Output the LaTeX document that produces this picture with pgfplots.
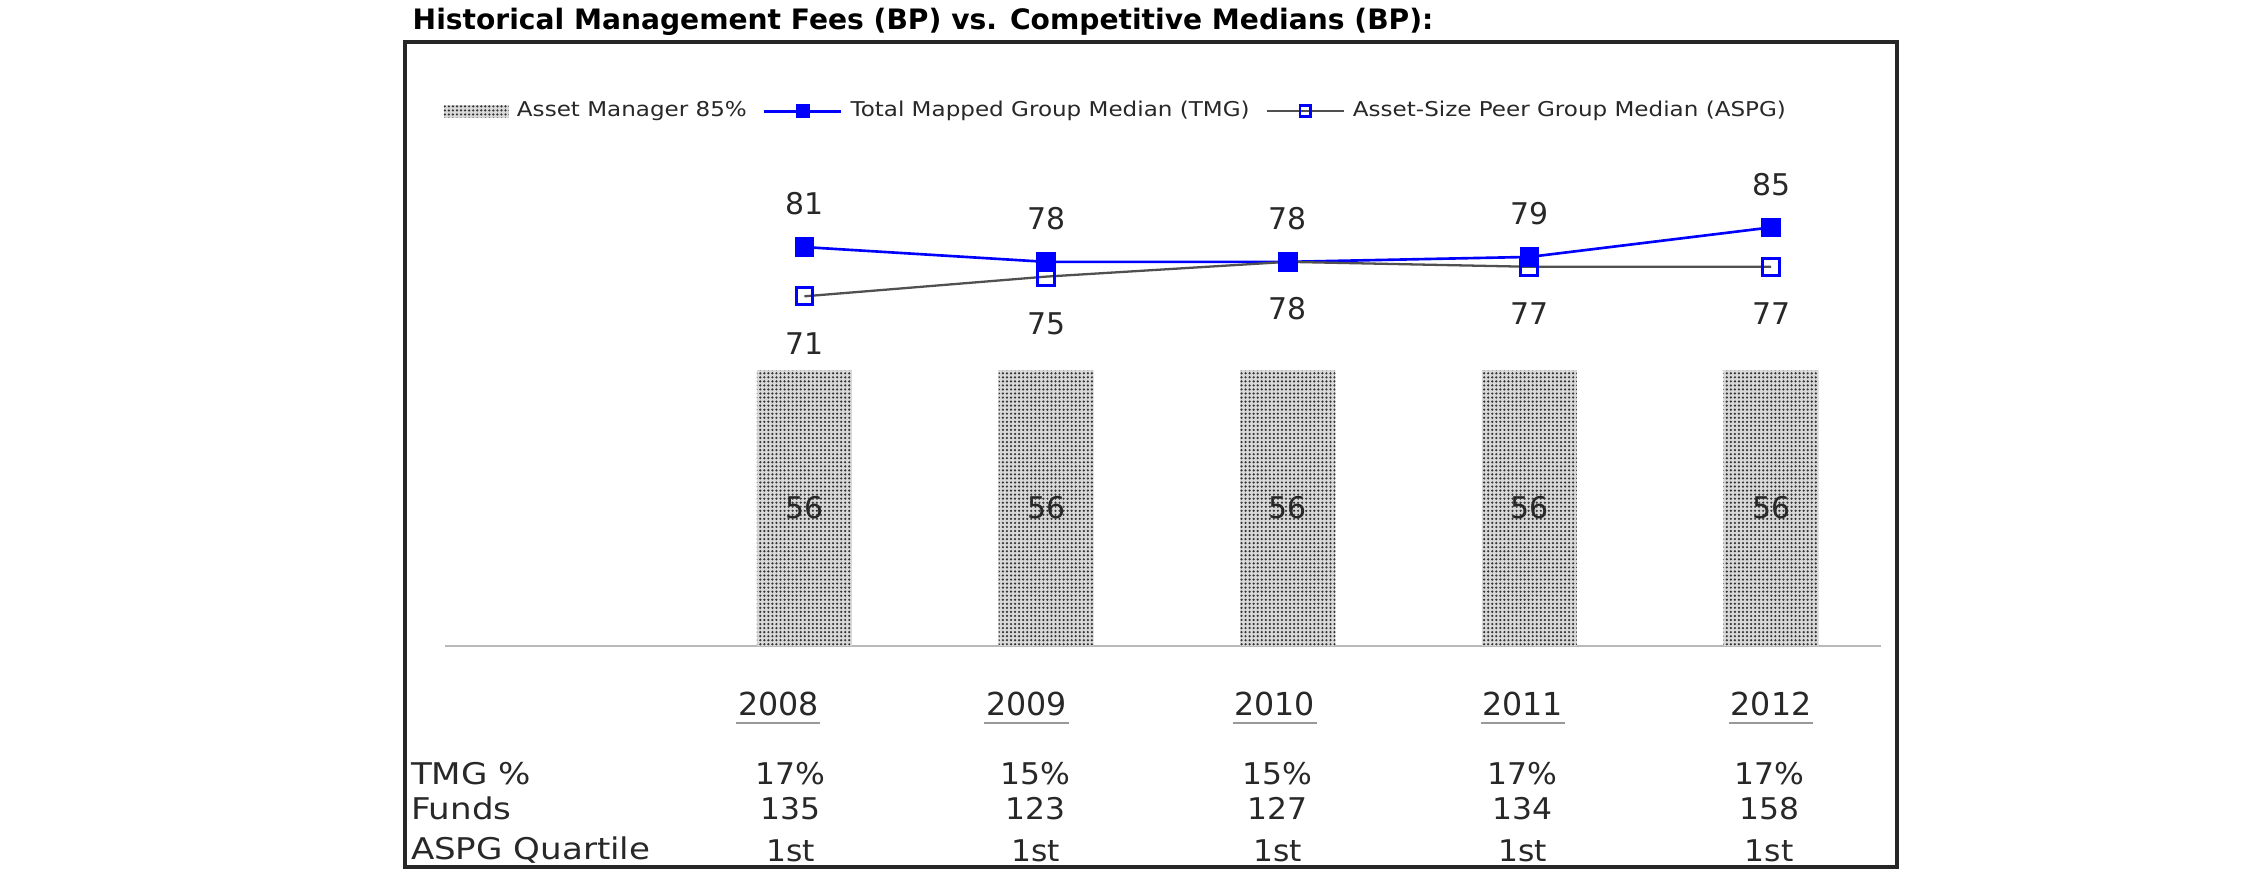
\documentclass[border=0pt]{standalone}
\usepackage{fontspec}
\setmainfont{DejaVu Sans}
\newfontfamily\legfont[FakeStretch=1.13]{DejaVu Sans}
\newfontfamily\rowfont[FakeStretch=1.14]{DejaVu Sans}
\newfontfamily\tabfont[FakeStretch=1.05]{DejaVu Sans}
\usepackage{pgfplots}
\pgfplotsset{compat=1.18}
\usetikzlibrary{patterns.meta}
\definecolor{tmgblue}{RGB}{0,0,255}
\definecolor{aspggray}{RGB}{80,80,80}
\definecolor{txt}{RGB}{40,40,40}
\tikzset{stipple/.style={preaction={fill=gray!30}, pattern={Dots[radius=0.35pt,distance=1.15pt]}, pattern color=black!80}}
\pgfplotsset{
  barlegend/.style={legend image code/.code={\path[stipple] (0cm,-0.065cm) rectangle (0.65cm,0.065cm);}},
  linelegend/.style={legend image code/.code={\draw[mark repeat=2,mark phase=2,##1,mark size=#1] plot coordinates {(0cm,0cm) (0.385cm,0cm) (0.77cm,0cm)};}},
}
\protected\def\yr#1{\setbox0=\hbox{#1}\leavevmode\kern-0.5pt\rlap{\raisebox{-2.4pt}{\color{gray!80}\rule{\dimexpr\wd0+1pt\relax}{0.75pt}}}\kern0.5pt\box0}
\begin{document}
\begin{tikzpicture}[x=0.01cm,y=0.01cm]
\fill[white] (0,0) rectangle (2250,895);
\draw[black!85, line width=1.1pt] (405,28) rectangle (1897,853);
\node[anchor=base west, inner sep=0pt, font=\bfseries\fontsize{8}{10}\selectfont] at (412,865) {Historical Management Fees (BP) vs. Competitive Medians (BP):};
\begin{axis}[
  at={(4.45cm,2.49cm)}, anchor=south west,
  scale only axis, width=14.35cm, height=5.904cm,
  xmin=-1.4865, xmax=4.4555, ymin=0, ymax=120,
  /pgf/number format/assume math mode=true,
  axis y line=none, axis x line*=bottom,
  x axis line style={gray!55, line width=0.6pt},
  xtick={-0.108,0.919,1.946,2.973,4.0},
  xticklabels={\yr{2008},\yr{2009},\yr{2010},\yr{2011},\yr{2012}},
  major tick length=0pt,
  xticklabel style={anchor=base, yshift=-0.70cm, inner sep=0pt, text=txt, font=\fontsize{9}{11}\selectfont},
  clip=false,
  legend columns=3,
  legend cell align=left,
  legend style={draw=none, fill=none, at={(-0.0014,0.905)}, anchor=west,
    inner sep=0pt, nodes={inner sep=0pt}, text=txt,
    font=\legfont\fontsize{5.8}{7}\selectfont,
    /tikz/every odd column/.append style={column sep=0.08cm},
    /tikz/every even column/.append style={column sep=0.16cm}},
]
\addplot[ybar, bar width=0.95cm, draw=none, stipple,
  nodes near coords,
  every node near coord/.append style={anchor=center, yshift=-1.378cm, text=txt, font=\fontsize{8.5}{10}\selectfont},
  barlegend]
  coordinates {(0,56) (1,56) (2,56) (3,56) (4,56)};
\addlegendentry{Asset Manager 85\%}
\addplot[tmgblue, line width=0.75pt, mark=square*, mark size=2.4pt, mark options={fill=tmgblue},
  nodes near coords,
  every node near coord/.append style={anchor=center, yshift=0.43cm, text=txt, font=\fontsize{8.5}{10}\selectfont},
  linelegend=1.6pt]
  coordinates {(0,81) (1,78) (2,78) (3,79) (4,85)};
\addlegendentry{Total Mapped Group Median (TMG)}
\addplot[aspggray, line width=0.65pt, mark=square, mark size=2.4pt, mark options={draw=tmgblue, fill=none, line width=0.85pt},
  nodes near coords,
  every node near coord/.append style={anchor=center, yshift=-0.47cm, text=txt, font=\fontsize{8.5}{10}\selectfont},
  linelegend=1.5pt]
  coordinates {(0,71) (1,75) (2,78) (3,77) (4,77)};
\addlegendentry{Asset-Size Peer Group Median (ASPG)}
% table below the chart
\begin{scope}[every node/.style={inner sep=0pt, anchor=base, text=txt, font=\tabfont\fontsize{8.5}{10}\selectfont}]
\node[anchor=base west, font=\rowfont\fontsize{8.5}{10}\selectfont] at (axis cs:-1.631,-28.25) {TMG \%};
\node[anchor=base west, font=\rowfont\fontsize{8.5}{10}\selectfont] at (axis cs:-1.631,-35.37) {Funds};
\node[anchor=base west, font=\rowfont\fontsize{8.5}{10}\selectfont] at (axis cs:-1.631,-43.5) {ASPG Quartile};
\node at (axis cs:-0.058,-28.25) {17\%};
\node at (axis cs:0.957,-28.25) {15\%};
\node at (axis cs:1.959,-28.25) {15\%};
\node at (axis cs:2.973,-28.25) {17\%};
\node at (axis cs:3.992,-28.25) {17\%};
\node at (axis cs:-0.058,-35.37) {135};
\node at (axis cs:0.957,-35.37) {123};
\node at (axis cs:1.959,-35.37) {127};
\node at (axis cs:2.973,-35.37) {134};
\node at (axis cs:3.992,-35.37) {158};
\node at (axis cs:-0.058,-43.9) {1st};
\node at (axis cs:0.957,-43.9) {1st};
\node at (axis cs:1.959,-43.9) {1st};
\node at (axis cs:2.973,-43.9) {1st};
\node at (axis cs:3.992,-43.9) {1st};
\end{scope}
\end{axis}
\end{tikzpicture}
\end{document}
